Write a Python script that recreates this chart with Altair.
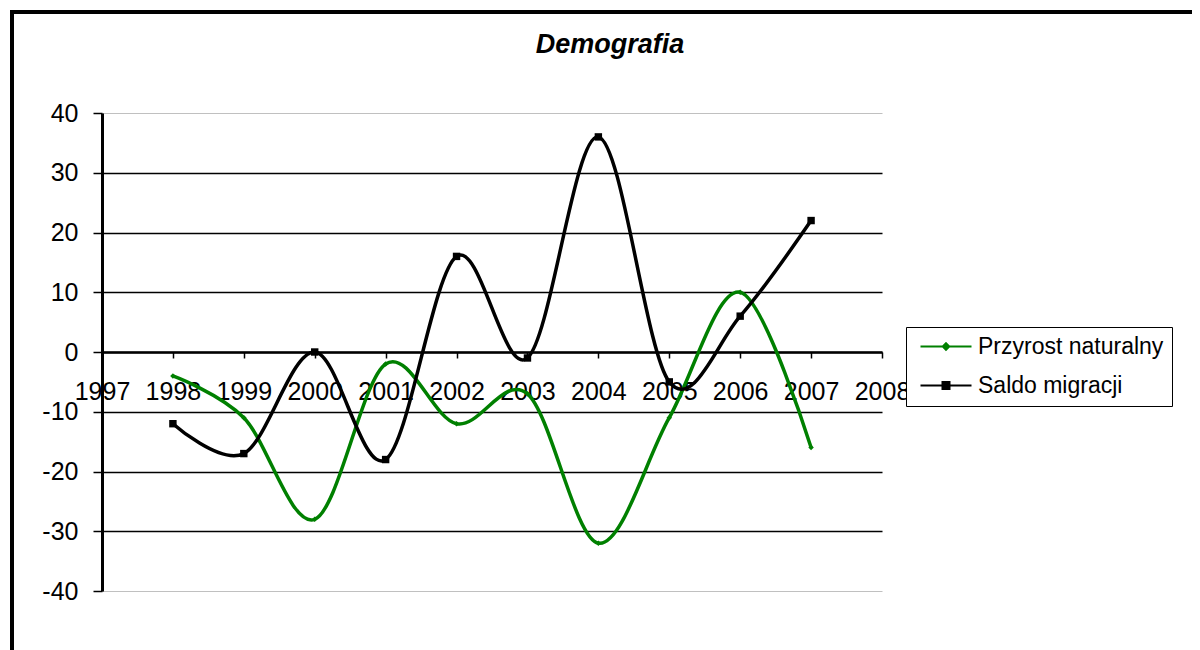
import altair as alt
import pandas as pd

years = [1998, 1999, 2000, 2001, 2002, 2003, 2004, 2005, 2006, 2007]
przyrost = [-4, -11, -28, -2, -12, -7, -32, -11, 10, -16]
saldo = [-12, -17, 0, -18, 16, -1, 36, -5, 6, 22]
series_names = ["Przyrost naturalny", "Saldo migracji"]
series_colors = ["#008000", "#000000"]
x_ticks = list(range(1997, 2009))
y_ticks = [-40, -30, -20, -10, 0, 10, 20, 30, 40]
title_text = "Demografia"

FONT = "Liberation Sans"

rows = []
for y, a, b in zip(years, przyrost, saldo):
    rows.append({"year": y, "value": a, "series": series_names[0]})
    rows.append({"year": y, "value": b, "series": series_names[1]})
df = pd.DataFrame(rows)

diamond_path = "M-1,0H9.2M4.1,-0.65L4.75,0L4.1,0.65L3.45,0Z"
square_path = "M-1,0H9.2M3.4,-0.7H4.8V0.7H3.4Z"

color_scale = alt.Scale(domain=series_names, range=series_colors)

x_enc = alt.X(
    "year:Q",
    scale=alt.Scale(domain=[1997, 2008], nice=False, zero=False),
    axis=alt.Axis(
        values=x_ticks, format="d", title=None, grid=False, offset=-239,
        domainColor="black", domainWidth=2.5, tickColor="black", tickSize=6,
        tickWidth=1.5, labelFont=FONT, labelFontSize=25, labelColor="black",
        labelPadding=21, labelFlush=False, labelOverlap=False,
    ),
)
y_enc = alt.Y(
    "value:Q",
    scale=alt.Scale(domain=[-40, 40], nice=False),
    axis=alt.Axis(
        values=y_ticks, title=None, grid=True, labelExpr="'' + datum.value",
        gridColor={"condition": {"test": "abs(datum.value) >= 40", "value": "#c0c0c0"}, "value": "#000000"},
        gridWidth={"condition": {"test": "abs(datum.value) >= 40", "value": 1}, "value": 1.5},
        domainColor="black", domainWidth=3, tickColor="black", tickSize=9,
        tickWidth=1.5, labelFont=FONT, labelFontSize=25, labelColor="black",
        labelPadding=15, labelFlush=False,
    ),
)

legend = alt.Legend(
    title=None, orient="none", legendX=804, legendY=214,
    labelFont=FONT, labelFontSize=23, labelColor="black", labelOffset=41,
    labelLimit=400,
    symbolSize=100, symbolStrokeWidth=2, symbolOpacity=1,
    padding=8, rowPadding=15, strokeColor="black", fillColor="white",
)

base = alt.Chart(df)

lines = base.mark_line(interpolate="cardinal", tension=0, strokeWidth=3.5).encode(
    x=x_enc, y=y_enc,
    color=alt.Color("series:N", scale=color_scale, legend=legend),
    detail="series:N",
)

pts_a = base.transform_filter(alt.datum.series == series_names[0]).mark_point(
    filled=True, opacity=1, shape="diamond", size=30, color=series_colors[0]
).encode(x="year:Q", y="value:Q")

pts_b = base.transform_filter(alt.datum.series == series_names[1]).mark_point(
    filled=True, opacity=1, shape="square", size=55, color=series_colors[1]
).encode(x="year:Q", y="value:Q")

legend_layer = base.mark_point(filled=True, opacity=0, size=100, strokeWidth=2).encode(
    x="year:Q", y="value:Q",
    color=alt.Color("series:N", scale=color_scale, legend=legend),
    stroke=alt.Stroke("series:N", scale=color_scale, legend=legend),
    shape=alt.Shape("series:N", scale=alt.Scale(domain=series_names, range=[diamond_path, square_path]), legend=legend),
)

frame = alt.Chart(pd.DataFrame({"f": [0]})).mark_rect(
    fill="transparent", stroke="black", strokeWidth=4
).encode(
    x=alt.value(-90), x2=alt.value(1110), y=alt.value(-101), y2=alt.value(570)
)

chart = alt.layer(frame, lines, pts_a, pts_b, legend_layer).properties(
    width=780, height=478,
    padding={"left": 94, "top": 105, "right": 310, "bottom": 60},
    autosize=alt.AutoSizeParams(type="none"),
    title=alt.Title(
        title_text, font=FONT, fontSize=27, fontWeight="bold", fontStyle="italic",
        color="black", anchor="middle", dx=118, dy=110, offset=40, baseline="alphabetic",
    ),
).configure(background="white").configure_view(stroke="transparent", strokeWidth=0)

chart.save("out.html", embed_options={"renderer": "svg", "actions": False})
